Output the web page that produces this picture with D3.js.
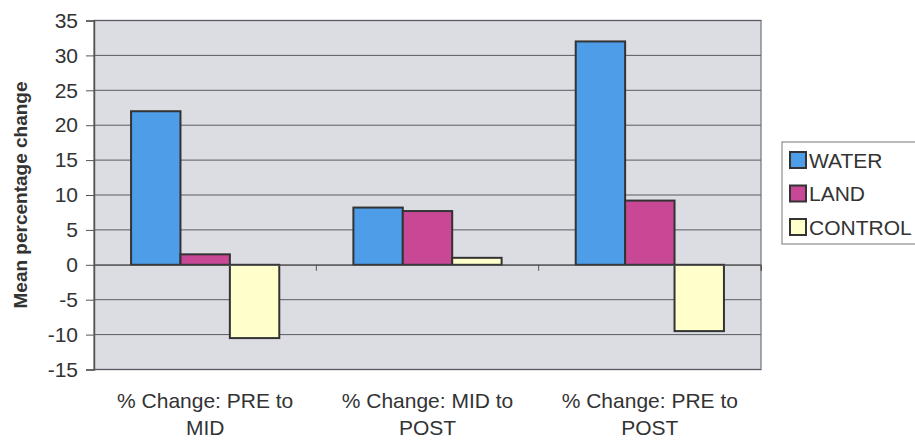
<!DOCTYPE html>
<html><head><meta charset="utf-8">
<script src="https://cdn.jsdelivr.net/npm/d3@7"></script>
<style>
html,body{margin:0;padding:0;background:#fff;}
svg{display:block;font-family:"Liberation Sans",Arial,sans-serif;}
</style></head>
<body>
<svg id="chart" width="915" height="442"></svg>
<script>
const categories = [["% Change: PRE to","MID"],["% Change: MID to","POST"],["% Change: PRE to","POST"]];
const seriesNames = ["WATER","LAND","CONTROL"];
const water = [22, 8.2, 32];
const land = [1.5, 7.7, 9.2];
const control = [-10.5, 1.0, -9.5];
const yTicks = [-15,-10,-5,0,5,10,15,20,25,30,35];
const colors = ["#4d9de9","#c84896","#ffffcc"];

const seriesValues = [water, land, control];
const svg = d3.select("#chart");
const L = 94, R = 761, T = 20.5, B = 369.5;

const x = d3.scaleBand().domain(d3.range(categories.length)).range([L, R]).paddingInner(0).paddingOuter(0);
const xs = d3.scaleBand().domain(d3.range(seriesNames.length)).range([0, x.bandwidth()]).paddingInner(0).paddingOuter(0.75);
const y = d3.scaleLinear().domain([-15, 35]).range([B, T]);

// plot background
svg.append("rect").attr("x", L).attr("y", T).attr("width", R - L).attr("height", B - T)
  .attr("fill", "#dcdce3").attr("stroke", "#8a8a92").attr("stroke-width", 1.5);

// gridlines
svg.append("g").selectAll("line").data(yTicks).join("line")
  .attr("x1", L).attr("x2", R).attr("y1", d => y(d)).attr("y2", d => y(d))
  .attr("stroke", "#5a5a62").attr("stroke-width", 1);

// y axis
const yAxis = d3.axisLeft(y).tickValues(yTicks).tickSize(8).tickPadding(8).tickFormat(d => String(d));
const gy = svg.append("g").attr("transform", `translate(${L},0)`).call(yAxis);
gy.select(".domain").attr("stroke", "#555").attr("stroke-width", 1.5);
gy.selectAll(".tick line").attr("stroke", "#555");
gy.selectAll(".tick text").attr("font-size", 21).attr("fill", "#333")
  .attr("font-family", "Liberation Sans, Arial, sans-serif");

// bars
const groups = svg.append("g").selectAll("g").data(categories).join("g")
  .attr("transform", (d, i) => `translate(${x(i)},0)`);
groups.selectAll("rect").data((d, i) => seriesValues.map((s, j) => ({ j, v: s[i] }))).join("rect")
  .attr("x", d => xs(d.j)).attr("width", xs.bandwidth())
  .attr("y", d => y(Math.max(0, d.v))).attr("height", d => Math.abs(y(d.v) - y(0)))
  .attr("fill", d => colors[d.j]).attr("stroke", "#333").attr("stroke-width", 2);

// x axis at zero
const xAxis = d3.axisBottom(x).tickSize(6).tickFormat("");
const gx = svg.append("g").attr("transform", `translate(0,${y(0)})`).call(xAxis);
gx.select(".domain").attr("stroke", "#555").attr("stroke-width", 1);
gx.selectAll(".tick line").remove();
const bounds = d3.range(categories.length + 1).map(i => L + i * x.step());
gx.selectAll(".bnd").data(bounds.slice(1)).join("line").attr("class", "bnd")
  .attr("x1", d => d).attr("x2", d => d).attr("y1", 0).attr("y2", 6).attr("stroke", "#555");

// category labels
const lab = svg.append("g").selectAll("text").data(categories).join("text")
  .attr("text-anchor", "middle").attr("font-size", 21).attr("fill", "#333");
lab.each(function(d, i) {
  const t = d3.select(this);
  d.forEach((line, k) => {
    t.append("tspan").attr("x", x(i) + x.bandwidth() / 2).attr("y", 408 + k * 27).text(line);
  });
});

// y title
svg.append("text").attr("transform", `translate(27,${(T + B) / 2}) rotate(-90)`)
  .attr("text-anchor", "middle").attr("font-size", 19).attr("font-weight", "bold").attr("fill", "#333")
  .text("Mean percentage change");

// legend
const lg = svg.append("g");
lg.append("rect").attr("x", 782).attr("y", 142).attr("width", 140).attr("height", 102)
  .attr("fill", "#fff").attr("stroke", "#777").attr("stroke-width", 1);
const items = lg.selectAll("g").data(seriesNames).join("g")
  .attr("transform", (d, i) => `translate(790,${160 + i * 33.5})`);
items.append("rect").attr("x", 0).attr("y", -8).attr("width", 16).attr("height", 16)
  .attr("fill", (d, i) => colors[i]).attr("stroke", "#333").attr("stroke-width", 2);
items.append("text").attr("x", 19).attr("y", 7.5).attr("font-size", 21).attr("fill", "#333").text(d => d);
</script>
</body></html>
